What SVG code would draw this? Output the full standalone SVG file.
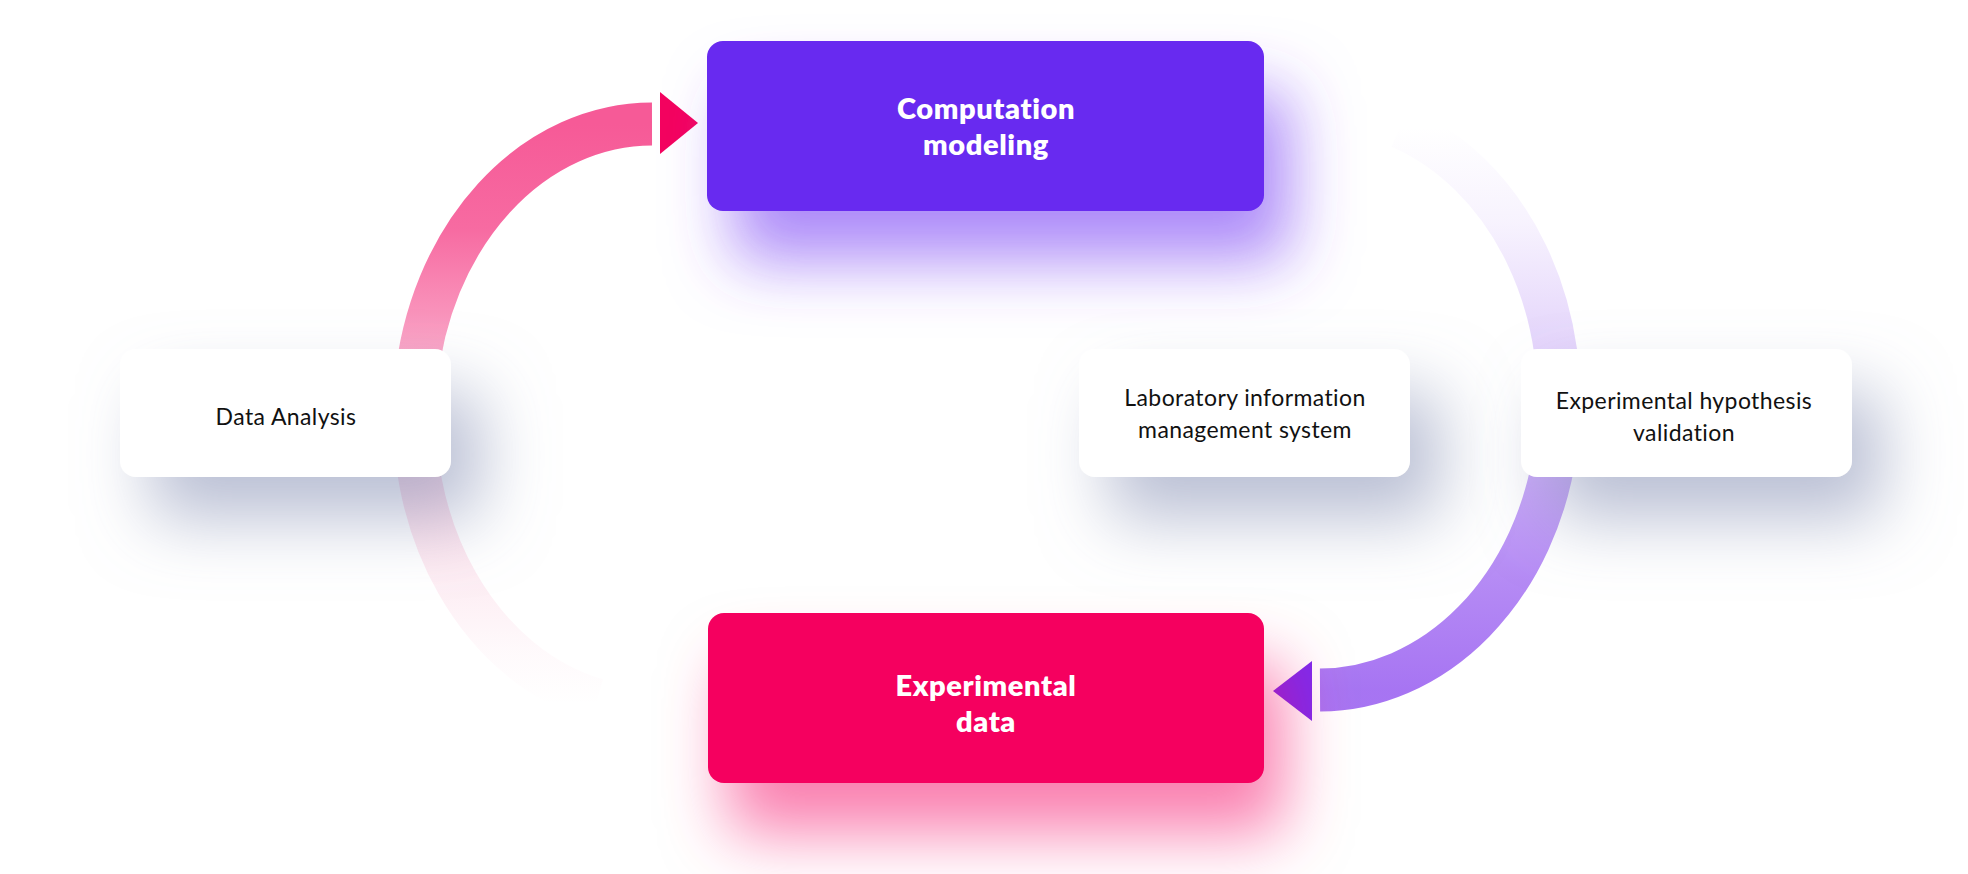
<svg xmlns="http://www.w3.org/2000/svg" width="1968" height="874" viewBox="0 0 1968 874">
  <style>
    .bold { font-family: Lato, "Liberation Sans", sans-serif; font-weight: 800; font-size: 29px; fill: #ffffff; text-anchor: middle; letter-spacing: 0.6px; }
    .reg { font-family: Lato, "Liberation Sans", sans-serif; font-weight: 400; font-size: 23px; fill: #111111; text-anchor: middle; letter-spacing: 0.4px; }
    .card { fill: #ffffff; filter: url(#shGrey); }
    .arc { fill: none; stroke-width: 43; stroke-linecap: butt; }
  </style>
  <defs>
    <filter id="shPurple" x="-50%" y="-80%" width="200%" height="280%">
      <feDropShadow dx="26" dy="50" stdDeviation="32" flood-color="#7A45F5" flood-opacity="0.62"/>
    </filter>
    <filter id="shPink" x="-50%" y="-80%" width="200%" height="280%">
      <feDropShadow dx="20" dy="50" stdDeviation="32" flood-color="#F5005F" flood-opacity="0.5"/>
    </filter>
    <filter id="shGrey" x="-60%" y="-100%" width="220%" height="300%">
      <feDropShadow dx="30" dy="42" stdDeviation="34" flood-color="#8C94B8" flood-opacity="0.6"/>
    </filter>
    <linearGradient id="gLeft" gradientUnits="userSpaceOnUse" x1="0" y1="124" x2="0" y2="705">
      <stop offset="0" stop-color="#F65A97" stop-opacity="1"/>
      <stop offset="0.18" stop-color="#F65A97" stop-opacity="0.9"/>
      <stop offset="0.37" stop-color="#F65A97" stop-opacity="0.58"/>
      <stop offset="0.61" stop-color="#F27AA8" stop-opacity="0.3"/>
      <stop offset="0.78" stop-color="#F27AA8" stop-opacity="0.14"/>
      <stop offset="0.91" stop-color="#F27AA8" stop-opacity="0.04"/>
      <stop offset="1" stop-color="#F27AA8" stop-opacity="0"/>
    </linearGradient>
    <linearGradient id="gRight" gradientUnits="userSpaceOnUse" x1="0" y1="127" x2="0" y2="690">
      <stop offset="0" stop-color="#9D65F1" stop-opacity="0"/>
      <stop offset="0.17" stop-color="#9D65F1" stop-opacity="0.08"/>
      <stop offset="0.39" stop-color="#9D65F1" stop-opacity="0.28"/>
      <stop offset="0.63" stop-color="#9D65F1" stop-opacity="0.58"/>
      <stop offset="0.81" stop-color="#9D65F1" stop-opacity="0.76"/>
      <stop offset="1" stop-color="#9D65F1" stop-opacity="0.9"/>
    </linearGradient>
  </defs>

  <rect x="0" y="0" width="1968" height="874" fill="#ffffff"/>

  <g id="connectors">
    <path class="arc" stroke="url(#gLeft)" d="M 597 700 A 238 292 0 0 1 652 124"/>
    <polygon points="660,92 660,154 698,123" fill="#F4025E"/>
    <path class="arc" stroke="url(#gRight)" d="M 1400 127 A 240 290 0 0 1 1320 690"/>
    <polygon points="1312,661 1312,721 1273,691" fill="#7D2BEE"/>
  </g>

  <g id="node-computation">
    <rect x="707" y="41" width="557" height="170" rx="16" fill="#6829F0" filter="url(#shPurple)"/>
    <text class="bold" x="986" y="119">Computation</text>
    <text class="bold" x="986" y="155">modeling</text>
  </g>

  <g id="node-experimental-data">
    <rect x="708" y="613" width="556" height="170" rx="16" fill="#F5015F" filter="url(#shPink)"/>
    <text class="bold" x="986" y="696">Experimental</text>
    <text class="bold" x="986" y="732">data</text>
  </g>

  <g id="node-data-analysis">
    <rect class="card" x="120" y="349" width="331" height="128" rx="16"/>
    <text class="reg" x="286" y="425">Data Analysis</text>
  </g>

  <g id="node-lims">
    <rect class="card" x="1079" y="349" width="331" height="128" rx="16"/>
    <text class="reg" x="1245" y="406">Laboratory information</text>
    <text class="reg" x="1245" y="438">management system</text>
  </g>

  <g id="node-hypothesis">
    <rect class="card" x="1521" y="349" width="331" height="128" rx="16"/>
    <text class="reg" x="1684" y="409">Experimental hypothesis</text>
    <text class="reg" x="1684" y="441">validation</text>
  </g>
</svg>
